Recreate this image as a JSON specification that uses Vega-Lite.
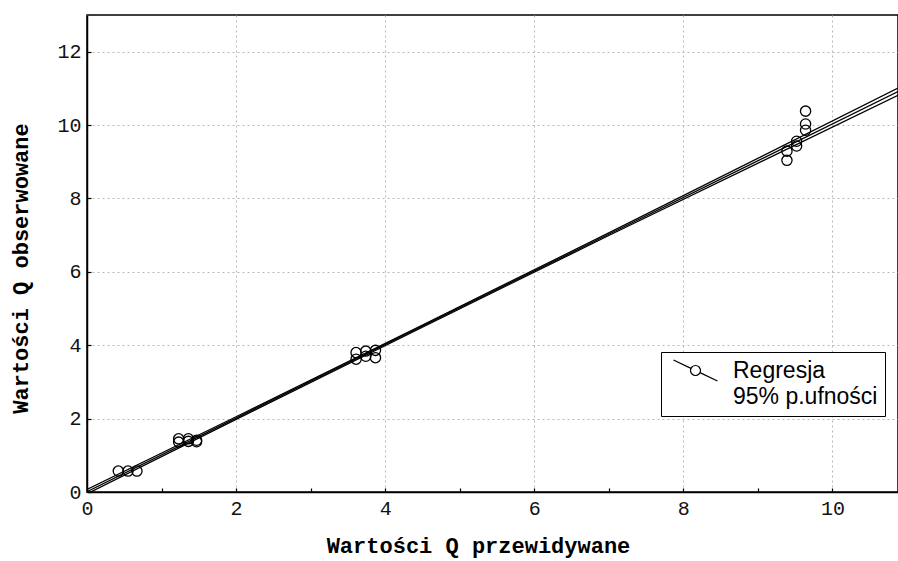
{
  "$schema": "https://vega.github.io/schema/vega-lite/v6.json",
  "width": 811,
  "height": 477,
  "autosize": {"type": "none"},
  "padding": {"left": 87, "top": 15, "right": 0, "bottom": 69},
  "background": "white",
  "config": {
    "view": {"stroke": "black", "strokeWidth": 1.5},
    "axis": {
      "labelFont": "Liberation Mono",
      "labelFontSize": 20,
      "labelColor": "#111",
      "labelFlush": false,
      "titleFont": "Liberation Mono",
      "titleFontSize": 22,
      "titleFontWeight": "bold",
      "titleColor": "black",
      "domainColor": "black",
      "domainWidth": 1.5,
      "tickColor": "black",
      "tickWidth": 1.2,
      "gridColor": "#b8b8b8",
      "gridDash": [2, 3],
      "gridWidth": 1
    }
  },
  "layer": [
    {
      "data": {
        "values": [
          {"x": 0, "y": 0.01, "line": "mid", "series": "Regresja"},
          {"x": 2, "y": 2.014, "line": "mid", "series": "Regresja"},
          {"x": 4.5, "y": 4.519, "line": "mid", "series": "Regresja"},
          {"x": 7, "y": 7.024, "line": "mid", "series": "Regresja"},
          {"x": 10.88, "y": 10.912, "line": "mid", "series": "Regresja"},
          {"x": 0, "y": 0.07, "line": "upper", "series": "95% p.ufności"},
          {"x": 2, "y": 2.05, "line": "upper", "series": "95% p.ufności"},
          {"x": 4.5, "y": 4.55, "line": "upper", "series": "95% p.ufności"},
          {"x": 7, "y": 7.06, "line": "upper", "series": "95% p.ufności"},
          {"x": 10.88, "y": 11.01, "line": "upper", "series": "95% p.ufności"},
          {"x": 0, "y": -0.05, "line": "lower", "series": "95% p.ufności"},
          {"x": 2, "y": 1.98, "line": "lower", "series": "95% p.ufności"},
          {"x": 4.5, "y": 4.49, "line": "lower", "series": "95% p.ufności"},
          {"x": 7, "y": 6.99, "line": "lower", "series": "95% p.ufności"},
          {"x": 10.88, "y": 10.81, "line": "lower", "series": "95% p.ufności"}
        ]
      },
      "mark": {"type": "line", "strokeWidth": 1.3, "clip": true},
      "encoding": {
        "x": {
          "field": "x", "type": "quantitative",
          "scale": {"domain": [0, 10.88], "nice": false, "zero": false},
          "axis": {
            "title": "Wartości Q przewidywane",
            "values": [0, 1, 2, 3, 4, 5, 6, 7, 8, 9, 10],
            "format": "d",
            "labelExpr": "datum.value % 2 === 0 ? datum.label : ''",
            "gridOpacity": {"condition": {"test": "datum.value % 2 === 1", "value": 0}, "value": 1},
            "tickSize": -4,
            "labelPadding": 10,
            "titleX": 391,
            "titleY": 53,
            "titleBaseline": "middle",
            "titleAnchor": "middle"
          }
        },
        "y": {
          "field": "y", "type": "quantitative",
          "scale": {"domain": [0, 13], "nice": false, "zero": false},
          "axis": {
            "title": "Wartości Q obserwowane",
            "values": [0, 1, 2, 3, 4, 5, 6, 7, 8, 9, 10, 11, 12],
            "format": "d",
            "labelExpr": "datum.value % 2 === 0 ? datum.label : ''",
            "gridOpacity": {"condition": {"test": "datum.value % 2 === 1", "value": 0}, "value": 1},
            "tickSize": -4,
            "labelPadding": 10,
            "titleX": -67,
            "titleY": 253,
            "titleBaseline": "middle",
            "titleAnchor": "middle"
          }
        },
        "detail": {"field": "line"},
        "color": {
          "field": "series", "type": "nominal",
          "scale": {"domain": ["Regresja", "95% p.ufności"], "range": ["black", "black"]},
          "legend": {
            "title": null,
            "orient": "none",
            "legendX": 574,
            "legendY": 337,
            "padding": 7,
            "strokeColor": "black",
            "fillColor": "white",
            "symbolType": "M-0.6,-1.05L1.15,-0.215M2.05,0.215L3.8,1.05M2.1,0A0.5,0.5,0,1,1,1.1,0A0.5,0.5,0,1,1,2.1,0",
            "symbolSize": 400,
            "symbolStrokeWidth": 1.2,
            "labelFont": "Liberation Sans",
            "labelFontSize": 23,
            "labelColor": "black",
            "labelOffset": 42,
            "rowPadding": 1,
            "labelLimit": 300,
            "encode": {
              "symbols": {
                "update": {
                  "fill": {"value": "white"},
                  "stroke": {"value": "black"},
                  "opacity": {"signal": "datum.value === 'Regresja' ? 1 : 0"}
                }
              }
            }
          }
        }
      }
    },
    {
      "data": {
        "values": [
          {"x": 0.42, "y": 0.57},
          {"x": 0.55, "y": 0.57},
          {"x": 0.67, "y": 0.57},
          {"x": 1.23, "y": 1.36},
          {"x": 1.23, "y": 1.45},
          {"x": 1.36, "y": 1.38},
          {"x": 1.36, "y": 1.45},
          {"x": 1.47, "y": 1.37},
          {"x": 1.47, "y": 1.41},
          {"x": 3.61, "y": 3.62},
          {"x": 3.61, "y": 3.8},
          {"x": 3.74, "y": 3.7},
          {"x": 3.74, "y": 3.84},
          {"x": 3.87, "y": 3.66},
          {"x": 3.87, "y": 3.86},
          {"x": 9.39, "y": 9.04},
          {"x": 9.39, "y": 9.29},
          {"x": 9.52, "y": 9.43},
          {"x": 9.52, "y": 9.56},
          {"x": 9.64, "y": 9.86},
          {"x": 9.64, "y": 10.03},
          {"x": 9.64, "y": 10.38}
        ]
      },
      "mark": {"type": "point", "shape": "circle", "filled": false, "color": "black", "size": 105, "strokeWidth": 1.3, "opacity": 1},
      "encoding": {
        "x": {"field": "x", "type": "quantitative"},
        "y": {"field": "y", "type": "quantitative"}
      }
    }
  ]
}
